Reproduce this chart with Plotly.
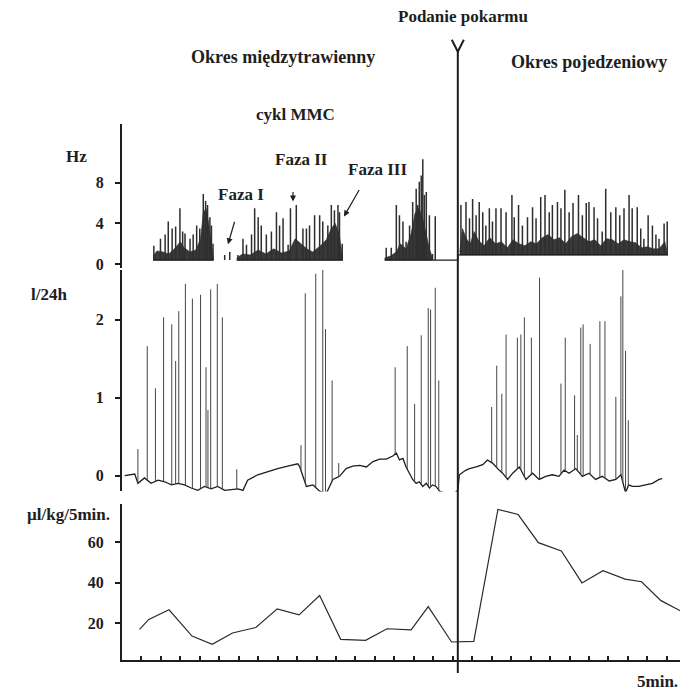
import numpy as np
import plotly.graph_objects as go

# ---------------- data ----------------
FOOD_TIME = 81.3  # min, moment of feeding

# Top panel: spike activity (Hz)
hz_spike_t = [3.2, 4.9, 6.1, 6.9, 7.9, 8.8, 9.9, 10.6, 11.2, 12.5, 13.3, 14.2, 15.0, 15.9, 16.5, 17.0, 17.6, 18.0, 18.4,
              21.4, 22.7,
              24.8, 26.1, 27.0, 28.3, 29.1, 30.0, 30.8, 32.1, 33.4, 34.7, 35.5, 36.4, 37.7, 38.3, 39.8, 41.5, 42.4, 43.2,
              44.5, 45.8, 46.6, 47.9, 48.8, 49.6, 50.5, 50.9, 51.6,
              62.9, 64.2, 65.5, 66.3, 67.2, 68.0, 68.9, 69.7, 70.6, 71.0, 71.4, 71.9, 72.3, 72.7, 73.2, 74.0, 74.8, 75.5,
              82.1, 83.4, 84.3, 85.1, 86.0, 86.8, 87.7, 88.5, 89.4, 90.2, 91.1, 92.4, 93.7, 95.2, 95.8, 96.9, 97.9, 99.2,
              100.5, 101.4, 102.6, 103.7, 104.8, 105.6, 106.9, 107.8, 108.8, 109.9, 110.9, 112.3, 113.3, 114.3, 115.0,
              116.3, 117.2, 118.4, 119.3, 120.6, 121.9, 122.9, 124.0, 125.3, 126.1, 127.4, 128.3, 129.1, 130.2, 131.3,
              132.2, 133.0, 134.3, 135.1]
hz_spike_v = [1.8, 2.5, 2.9, 4.2, 3.5, 3.7, 5.5, 3.2, 3.0, 2.5, 2.9, 3.8, 3.5, 6.9, 6.2, 5.8, 4.6, 3.8, 2.0,
              0.9, 1.2,
              0.9, 2.5, 1.9, 2.9, 5.5, 4.6, 3.8, 2.9, 3.2, 5.1, 3.8, 4.5, 1.9, 5.5, 5.8, 3.5, 3.5, 3.8,
              4.8, 4.8, 4.2, 3.8, 5.8, 5.3, 5.8, 5.1, 2.0,
              1.6, 1.6, 5.8, 4.8, 4.2, 2.2, 3.8, 6.1, 7.4, 5.8, 8.1, 8.7, 10.3, 6.8, 7.1, 4.8, 1.0, 4.7,
              5.8, 6.1, 4.5, 6.4, 4.8, 6.1, 5.1, 3.8, 5.5, 4.2, 5.5, 5.5, 5.1, 6.8, 4.6, 5.8, 3.8, 4.6,
              5.6, 4.5, 6.6, 6.8, 5.1, 5.8, 6.1, 5.5, 7.3, 5.1, 6.0, 6.8, 4.8, 6.0, 6.1,
              5.6, 4.5, 3.2, 7.4, 5.1, 5.6, 4.8, 5.5, 6.8, 5.5, 5.6, 3.5, 2.5, 4.8, 3.8,
              2.9, 2.5, 4.0, 4.2]
hz_base_pre = 0.4
hz_base_post = 0.9
hz_base_t = [3.0, 18.6, None, 24.5, 51.8, None, 62.5, FOOD_TIME, FOOD_TIME, 135.3]
hz_base_v = [0.4, 0.4, None, 0.4, 0.4, None, 0.4, 0.4, 0.9, 0.9]
# dense dark mass of the recording (upper envelope), one list per burst
hz_mass_t = [
    [3.0, 4.0, 5.5, 7.0, 8.5, 10.0, 11.0, 12.5, 14.0, 15.2, 15.9, 16.6, 17.3, 18.0, 18.5],
    [24.5, 26.0, 28.0, 30.0, 32.0, 34.0, 36.0, 38.0, 39.5, 41.0, 42.5, 44.0, 46.0, 47.5, 48.8, 49.8, 50.8, 51.6],
    [62.5, 64.0, 65.5, 66.5, 68.0, 69.3, 70.3, 71.3, 72.3, 73.2, 74.0, 74.8],
    [81.8, 82.5, 83.5, 84.5, 85.5, 86.5, 88.0, 89.5, 91.0, 92.5, 94.0, 95.5, 97.0, 98.5, 100.0, 101.5, 103.0,
     104.5, 106.0, 107.5, 109.0, 110.5, 112.0, 113.5, 115.0, 116.5, 118.0, 119.5, 121.0, 122.5, 124.0, 125.5,
     127.0, 128.5, 130.0, 131.5, 133.0, 134.5, 135.2],
]
hz_mass_v = [
    [0.8, 1.3, 1.2, 1.0, 1.5, 2.2, 1.6, 1.2, 1.4, 2.5, 5.0, 5.5, 4.0, 2.2, 0.6],
    [0.6, 1.0, 0.9, 1.4, 1.0, 1.5, 1.1, 1.3, 2.5, 2.0, 1.5, 1.2, 1.8, 2.4, 3.5, 4.0, 3.0, 0.8],
    [0.6, 0.8, 1.2, 2.0, 1.5, 3.0, 5.0, 5.5, 4.5, 3.0, 1.5, 0.6],
    [1.2, 3.5, 2.5, 2.0, 3.2, 2.4, 1.8, 2.6, 2.0, 2.2, 1.6, 2.4, 2.0, 1.8, 2.2, 2.0, 2.6,
     2.9, 2.4, 2.6, 2.0, 2.7, 3.0, 2.6, 2.2, 2.4, 1.8, 2.5, 2.4, 2.0, 2.4, 2.2,
     2.1, 1.6, 1.7, 1.5, 1.5, 2.2, 1.0],
]

# Middle panel: flow recording (l/24h)
flow_base_t = [-4.3, -1.7, -0.9, 0.8, 2.5, 4.3, 6.0, 7.7, 9.4, 11.1, 12.8, 14.5, 16.2, 17.9, 19.6, 21.4, 23.1, 24.8,
               26.1, 27.3, 29.9, 32.5, 35.0, 37.6, 40.2, 40.7, 42.4, 44.1, 45.8, 47.5, 49.2, 50.9, 52.6, 54.3, 56.1,
               57.8, 59.5, 61.2, 62.9, 64.6, 65.5, 66.3, 67.2, 68.0, 68.9, 69.7, 70.6, 71.4, 72.3, 73.2, 74.0, 74.8,
               75.7, 76.6, 78.3, 80.0, 81.3, 81.7, 83.4, 84.3, 86.0, 87.7, 88.9, 90.2, 91.9, 92.8, 94.1, 95.4, 97.1,
               98.8, 100.5, 102.2, 103.9, 105.6, 107.3, 108.6, 109.9, 111.6, 113.3, 115.0, 116.7, 118.4, 120.2,
               121.9, 123.2, 124.4, 125.2, 126.1, 127.8, 129.6, 131.3, 133.0, 133.8]
flow_base_v = [0.0, 0.02, -0.1, -0.03, -0.1, -0.06, -0.08, -0.12, -0.1, -0.12, -0.16, -0.19, -0.14, -0.17, -0.14,
               -0.19, -0.18, -0.17, -0.19, -0.06, 0.01, 0.05, 0.09, 0.12, 0.15, 0.11, -0.14, -0.12, -0.2, -0.23,
               -0.05, -0.01, 0.09, 0.12, 0.13, 0.11, 0.18, 0.21, 0.21, 0.25, 0.29, 0.2, 0.22, 0.11, 0.03, -0.05,
               -0.1, -0.08, -0.14, -0.1, -0.16, -0.12, -0.14, -0.2, -0.23, -0.24, -0.19, 0.01, 0.07, 0.09, 0.11,
               0.14, 0.2, 0.16, 0.07, 0.03, -0.05, 0.03, 0.11, -0.05, 0.03, -0.05, -0.01, 0.01, -0.01, 0.07, 0.03,
               0.09, -0.01, 0.03, -0.05, -0.01, -0.07, -0.05, 0.01, -0.22, -0.12, -0.14, -0.14, -0.12, -0.1, -0.05,
               -0.04]
flow_spike_t = [-0.9, 1.5, 3.6, 5.7, 7.8, 8.8, 9.6, 11.3, 13.1, 15.2, 16.6, 17.1, 17.8, 19.5, 20.8, 24.5,
                41.0, 42.1, 44.8, 46.6, 47.3, 49.0, 50.7,
                65.2, 68.3, 70.2, 71.9, 73.7, 74.3, 75.5, 76.4,
                90.0, 91.3, 92.6, 93.7, 96.6, 97.5, 98.4, 100.2, 102.3, 107.8, 108.9, 111.3, 112.0, 112.9, 113.5,
                115.3, 117.8, 119.1, 121.9, 123.2, 123.7, 124.4, 125.1]
flow_spike_v = [0.34, 1.66, 1.12, 2.03, 1.94, 1.47, 2.11, 2.46, 2.27, 2.32, 1.39, 0.84, 2.39, 2.46, 2.03, 0.08,
                0.39, 2.34, 2.59, 2.64, 1.88, 1.22, 0.16,
                1.39, 1.66, 0.92, 1.80, 2.15, 2.13, 2.41, 1.22,
                0.88, 1.41, 1.05, 1.81, 1.77, 1.81, 2.03, 1.77, 2.54, 1.18, 1.77, 1.03, 0.52, 1.90, 1.94,
                1.69, 1.98, 1.98, 1.01, 2.30, 2.66, 1.60, 0.71]

# Bottom panel: secretion (µl/kg/5min)
sec_t = [-0.5, 1.9, 7.1, 13.0, 18.2, 23.4, 29.4, 34.9, 40.5, 45.8, 51.2, 57.6, 63.1, 69.3, 73.7, 79.7, 85.4,
         91.6, 96.8, 102.0, 107.9, 113.2, 118.6, 124.3, 128.5, 133.5, 138.8]
sec_v = [17.1, 22.0, 26.7, 13.8, 9.8, 15.3, 18.0, 27.2, 24.2, 33.7, 12.2, 11.7, 17.4, 16.9, 28.3, 10.9, 11.2,
         76.0, 73.5, 59.7, 55.6, 39.9, 45.9, 41.8, 40.5, 31.2, 25.9]

hz_ticks = [0, 4, 8]
flow_ticks = [0, 1, 2]
sec_ticks = [20, 40, 60]

# ---------------- figure ----------------
# the page body adds an 8 px margin, so the figure is 8 px smaller and all layout positions are offset
PAGE_OFF = 8
W, H = 688 - PAGE_OFF, 693 - PAGE_OFF
SERIF = "Liberation Serif"
INK = "#1e1e1e"


def px(x):
    return (x - PAGE_OFF) / W


def py(y):
    return 1 - (y - PAGE_OFF) / H


fig = go.Figure()

# top panel: dark mass polygons
for mt, mv in zip(hz_mass_t, hz_mass_v):
    base = hz_base_post if mt[0] > FOOD_TIME else hz_base_pre
    xs = list(mt) + list(mt[::-1])
    ys = list(mv) + [base] * len(mt)
    fig.add_trace(go.Scatter(x=xs, y=ys, yaxis="y", mode="lines", fill="toself",
                             fillcolor="rgba(35,35,35,0.9)", line=dict(width=0.6, color="#2a2a2a"),
                             hoverinfo="skip", showlegend=False))
# top panel: spikes
sx, sy = [], []
for t, v in zip(hz_spike_t, hz_spike_v):
    b = hz_base_post if t > FOOD_TIME else hz_base_pre
    sx += [t, t, None]
    sy += [b, v, None]
fig.add_trace(go.Scatter(x=sx, y=sy, yaxis="y", mode="lines", line=dict(width=1.5, color="#2e2e2e"),
                         showlegend=False, hoverinfo="skip"))
fig.add_trace(go.Scatter(x=hz_base_t, y=hz_base_v, yaxis="y", mode="lines",
                         line=dict(width=1.3, color=INK), showlegend=False, connectgaps=False))

# middle panel: baseline + spikes
fig.add_trace(go.Scatter(x=flow_base_t, y=flow_base_v, yaxis="y2", mode="lines",
                         line=dict(width=1.3, color=INK), showlegend=False))
fx, fy = [], []
for t, v in zip(flow_spike_t, flow_spike_v):
    b = float(np.interp(t, flow_base_t, flow_base_v))
    fx += [t, t, None]
    fy += [b, v, None]
fig.add_trace(go.Scatter(x=fx, y=fy, yaxis="y2", mode="lines", line=dict(width=1, color="#454545"),
                         showlegend=False, hoverinfo="skip"))

# bottom panel: secretion line
fig.add_trace(go.Scatter(x=sec_t, y=sec_v, yaxis="y3", mode="lines",
                         line=dict(width=1.2, color="#2b2b2b"), showlegend=False))

# x range from pixel layout (axis line at 122 px, 5 min ticks every 19.46 px starting at 141.4 px)
x0_px, x1_px = 122, 684
t_per_px = 5 / 19.46
xr = [(x0_px - 141.4) * t_per_px, (x1_px - 141.4) * t_per_px]

tickfont = dict(family=SERIF, size=16, color=INK, weight="bold")
yax_common = dict(showline=True, linecolor=INK, linewidth=2, ticks="outside", ticklen=5, tickwidth=2,
                  tickcolor=INK, showgrid=False, zeroline=False, tickfont=tickfont, anchor="x", ticklabelstandoff=8)

fig.update_layout(
    width=W, height=H, autosize=False,
    margin=dict(l=0, r=0, t=0, b=0),
    paper_bgcolor="white", plot_bgcolor="white",
    xaxis=dict(domain=[px(x0_px), px(x1_px)], range=xr, showline=True, linecolor=INK, linewidth=2,
               ticks="inside", ticklen=4, tickwidth=2, tickcolor=INK, tick0=0, dtick=5,
               showticklabels=False, showgrid=False, zeroline=False, anchor="y3"),
    yaxis=dict(domain=[py(270), py(125)], range=[-0.39, 13.76], tickvals=hz_ticks, **yax_common),
    yaxis2=dict(domain=[py(495), py(272)], range=[-0.204, 2.637], tickvals=flow_ticks, **yax_common),
    yaxis3=dict(domain=[py(665), py(508)], range=[1.95, 78.5], tickvals=sec_ticks, **yax_common),
)

# feeding line with "Y" marker
fig.add_shape(type="line", xref="x", yref="paper", x0=FOOD_TIME, x1=FOOD_TIME, y0=py(678), y1=py(50),
              line=dict(color=INK, width=2))
dv = 6 * t_per_px
fig.add_shape(type="path", xref="x", yref="paper",
              path=f"M {FOOD_TIME - dv},{py(40)} L {FOOD_TIME},{py(52)} L {FOOD_TIME + dv},{py(40)}",
              line=dict(color=INK, width=2))


def label(text, x, y, size=17):
    fig.add_annotation(text=f"<b>{text}</b>", x=px(x), y=py(y), xref="paper", yref="paper",
                       showarrow=False, xanchor="center", yanchor="middle",
                       font=dict(family=SERIF, size=size, color=INK))


label("Podanie pokarmu", 463, 17, 17)
label("Okres międzytrawienny", 283, 57, 18)
label("Okres pojedzeniowy", 589, 62, 18)
label("cykl MMC", 295, 115, 17)
label("Hz", 76, 158, 17)
label("Faza I", 241, 196, 17)
label("Faza II", 301, 161, 17)
label("Faza III", 378, 171, 17)
label("l/24h", 49, 297, 17)
label("µl/kg/5min.", 68, 518, 17)
label("5min.", 657, 686, 17)


def arrow(hx, hy, tx, ty):
    fig.add_annotation(x=px(hx), y=py(hy), xref="paper", yref="paper", text="", showarrow=True,
                       ax=tx - hx, ay=ty - hy, arrowhead=2, arrowsize=1, arrowwidth=1.2, arrowcolor=INK)


arrow(228, 246, 235, 222)
arrow(293, 203, 293, 192)
arrow(344, 218, 360, 190)

fig.write_html("out.html")
